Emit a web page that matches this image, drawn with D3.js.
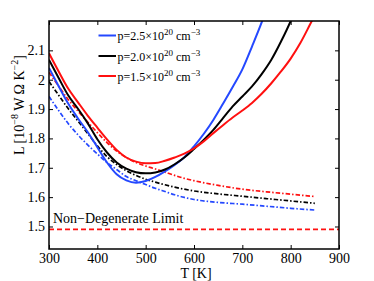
<!DOCTYPE html>
<html><head><meta charset="utf-8">
<script src="https://cdn.jsdelivr.net/npm/d3@7"></script>
<style>
body{margin:0;background:#fff}
svg{display:block}
text{font-family:"Liberation Serif","Times New Roman",serif;fill:#000}
</style>
</head><body>
<svg id="c" width="374" height="281"></svg>
<script>
// ---- data ----
const xTicks = [300, 400, 500, 600, 700, 800, 900];
const yTicks = [1.5, 1.6, 1.7, 1.8, 1.9, 2.0, 2.1];
const yTickLabels = ["1.5", "1.6", "1.7", "1.8", "1.9", "2", "2.1"];

const legendLabels = ["2.5", "2.0", "1.5"];
const seriesColors = ["#2448ff", "#000000", "#ff1010"];

// solid curves
const T_blue  = [300,320,340,360,380,400,420,440,460,480,500,520,540,560,580,600,620,640,660,680,700,720,740,750];
const L_blue  = [2.040,1.978,1.918,1.868,1.822,1.770,1.718,1.678,1.657,1.649,1.655,1.669,1.688,1.710,1.736,1.773,1.815,1.863,1.918,1.975,2.035,2.113,2.195,2.240];
const T_black = [300,320,340,360,380,400,420,440,460,480,500,520,540,560,580,600,620,640,660,680,700,720,740,760,780,800,810];
const L_black = [2.068,2.006,1.946,1.901,1.852,1.797,1.752,1.718,1.697,1.685,1.681,1.684,1.694,1.712,1.735,1.764,1.795,1.829,1.869,1.909,1.943,1.977,2.019,2.068,2.130,2.200,2.240];
const T_red   = [300,320,340,360,380,400,420,440,460,480,500,520,540,560,580,600,620,640,660,680,700,720,740,760,780,800,820,840,850];
const L_red   = [2.090,2.028,1.969,1.923,1.878,1.837,1.797,1.761,1.735,1.721,1.715,1.716,1.724,1.735,1.748,1.766,1.790,1.818,1.845,1.871,1.895,1.921,1.952,1.988,2.028,2.072,2.125,2.188,2.220];

// dash-dot curves
const T_dd = [300,320,340,360,380,400,420,440,460,480,500,520,540,560,580,600,650,700,750,800,850];
const L_blue_dd  = [1.943,1.895,1.850,1.812,1.778,1.747,1.718,1.694,1.670,1.656,1.643,1.630,1.619,1.608,1.599,1.592,1.582,1.576,1.569,1.562,1.556];
const L_black_dd = [1.994,1.947,1.901,1.859,1.817,1.775,1.738,1.711,1.690,1.674,1.661,1.651,1.642,1.634,1.627,1.621,1.611,1.603,1.595,1.587,1.579];
const L_red_dd   = [2.025,1.978,1.932,1.893,1.856,1.820,1.786,1.757,1.735,1.718,1.706,1.696,1.685,1.674,1.664,1.656,1.640,1.627,1.618,1.610,1.602];

const nonDegT = [300, 900];
const nonDegL = [1.49, 1.49];

// ---- layout ----
const svg = d3.select("#c");
const pLeft = 49, pRight = 339, pTop = 21, pBottom = 249;
const x = d3.scaleLinear().domain([300, 900]).range([pLeft, pRight]);
const y = d3.scaleLinear().domain([1.4233, 2.2]).range([pBottom, pTop]);

svg.append("defs").append("clipPath").attr("id","clip")
  .append("rect").attr("x", pLeft).attr("y", pTop).attr("width", pRight-pLeft).attr("height", pBottom-pTop);

const plot = svg.append("g").attr("clip-path","url(#clip)");
const line = d3.line().x(d => x(d[0])).y(d => y(d[1])).curve(d3.curveMonotoneX);
const zip = (a, b) => a.map((v, i) => [v, b[i]]);

const solids = [[T_blue, L_blue], [T_black, L_black], [T_red, L_red]];
const dashes = [L_blue_dd, L_black_dd, L_red_dd];

// non-degenerate limit
plot.append("path").datum(zip(nonDegT, nonDegL)).attr("d", line)
  .attr("fill","none").attr("stroke", seriesColors[2]).attr("stroke-width", 1.8)
  .attr("stroke-dasharray","5,3");

dashes.forEach((L, i) => {
  plot.append("path").datum(zip(T_dd, L)).attr("d", line)
    .attr("fill","none").attr("stroke", seriesColors[i]).attr("stroke-width", 1.7)
    .attr("stroke-dasharray","4.5,2,1.5,2");
});
solids.forEach((s, i) => {
  plot.append("path").datum(zip(s[0], s[1])).attr("d", line)
    .attr("fill","none").attr("stroke", seriesColors[i]).attr("stroke-width", 2)
    .attr("stroke-linejoin","round");
});

// ---- axes ----
const fs = 14;
const gx = svg.append("g").attr("transform", `translate(0,${pBottom})`)
  .call(d3.axisBottom(x).tickValues(xTicks).tickSize(-4).tickPadding(5).tickFormat(d3.format("d")));
const gxt = svg.append("g").attr("transform", `translate(0,${pTop})`)
  .call(d3.axisTop(x).tickValues(xTicks).tickSize(-4).tickFormat(""));
const gy = svg.append("g").attr("transform", `translate(${pLeft},0)`)
  .call(d3.axisLeft(y).tickValues(yTicks).tickSize(-4).tickPadding(4).tickFormat((d, i) => yTickLabels[i]));
const gyr = svg.append("g").attr("transform", `translate(${pRight},0)`)
  .call(d3.axisRight(y).tickValues(yTicks).tickSize(-4).tickFormat(""));
[gx, gxt, gy, gyr].forEach(g => {
  g.select(".domain").remove();
  g.selectAll(".tick line").attr("stroke","#000").attr("stroke-width",1);
  g.selectAll("text").attr("font-family",'"Liberation Serif",serif').attr("font-size", fs).attr("fill","#000");
});
gx.selectAll("text").attr("dy", null).attr("y", 13.5);
svg.append("rect").attr("x", pLeft).attr("y", pTop).attr("width", pRight-pLeft).attr("height", pBottom-pTop)
  .attr("fill","none").attr("stroke","#000").attr("stroke-width",1.5);

// axis titles
svg.append("text").attr("x", 196).attr("y", 278).attr("text-anchor","middle")
  .attr("font-size", fs).text("T [K]");

const yl = svg.append("text").attr("transform","translate(24,105) rotate(-90)")
  .attr("text-anchor","middle").attr("font-size", fs);
yl.append("tspan").text("L [10");
yl.append("tspan").attr("font-size", 10).attr("dy", -6).text("−8");
yl.append("tspan").attr("dy", 6).text(" W Ω K");
yl.append("tspan").attr("font-size", 10).attr("dy", -6).text("−2");
yl.append("tspan").attr("dy", 6).text("]");

// non-degenerate label
svg.append("text").attr("x", 53).attr("y", 223).attr("font-size", fs).text("Non−Degenerate Limit");

// legend
const legY = [35.5, 56, 76];
legendLabels.forEach((lab, i) => {
  svg.append("line").attr("x1", 98.5).attr("x2", 116).attr("y1", legY[i]).attr("y2", legY[i])
    .attr("stroke", seriesColors[i]).attr("stroke-width", 2);
  const t = svg.append("text").attr("x", 117.5).attr("y", legY[i] + 4.5).attr("font-size", 12);
  t.append("tspan").text(`p=${lab}×10`);
  t.append("tspan").attr("font-size", 9).attr("dy", -5).text("20");
  t.append("tspan").attr("dy", 5).text(" cm");
  t.append("tspan").attr("font-size", 9).attr("dy", -5).text("−3");
});
</script>
</body></html>
